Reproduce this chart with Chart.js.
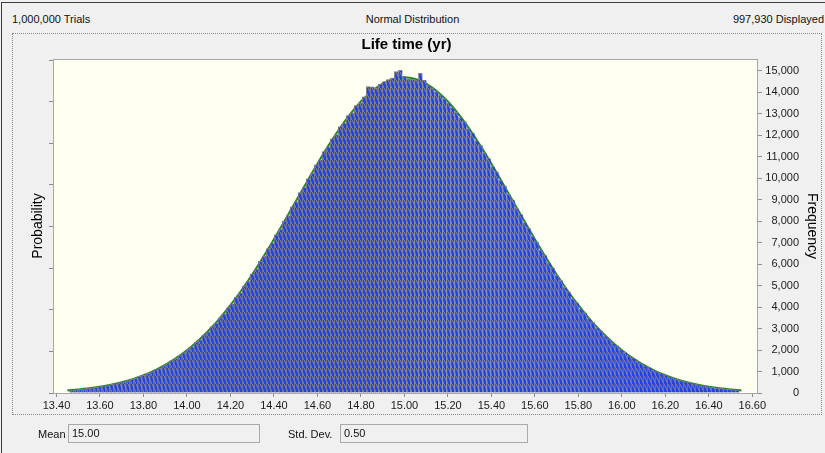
<!DOCTYPE html>
<html>
<head>
<meta charset="utf-8">
<script src="https://cdn.jsdelivr.net/npm/chart.js@4.4.1/dist/chart.umd.min.js"></script>
<style>
  html, body { margin: 0; padding: 0; }
  body {
    width: 825px; height: 453px; position: relative; overflow: hidden;
    background: #f0f0f0; color: #111;
    font-family: "Liberation Sans", Arial, sans-serif; font-size: 11px;
  }
  .edge { position: absolute; left: 1px; top: 2px; right: 0; bottom: 0;
    border-left: 1px solid #3c3c3c; border-top: 1px solid #3c3c3c; }
  .hdr { position: absolute; top: 13px; white-space: nowrap; }
  #frame { position: absolute; left: 12px; top: 33px; width: 808px; height: 380px;
    border: 1px dotted #8a8a8a; }
  #chartBox { position: absolute; left: 0; top: 0; width: 825px; height: 453px; }
  .lbl { position: absolute; top: 428px; white-space: nowrap; }
  .box { position: absolute; top: 424px; height: 19px; box-sizing: border-box;
    border: 1px solid #a9a9a9; background: #f0f0f0; padding-left: 3px; line-height: 17px; }
</style>
</head>
<body>
<div class="edge"></div>
<div class="hdr" style="left:12px">1,000,000 Trials</div>
<div class="hdr" style="left:0;width:825px;text-align:center">Normal Distribution</div>
<div class="hdr" style="right:1px">997,930 Displayed</div>
<div id="frame"></div>
<div id="chartBox"><canvas id="histChart" width="825" height="453"></canvas></div>
<div class="lbl" style="left:38px">Mean</div>
<div class="box" style="left:68px;width:192px">15.00</div>
<div class="lbl" style="left:288px">Std. Dev.</div>
<div class="box" style="left:340px;width:188px">0.50</div>

<script>
// Histogram data
const trials = 1000000
const displayed = 997930
const binStart = 13.4605
const binWidth = 0.018437

const frequency = [
  141, 148, 175, 186, 217, 232, 266, 284, 327, 351,
  398, 429, 484, 519, 583, 641, 688, 771, 826, 918,
  981, 1089, 1162, 1281, 1369, 1503, 1598, 1757, 1868, 2034,
  2161, 2352, 2489, 2702, 2851, 3087, 3249, 3502, 3688, 3961,
  4152, 4449, 4661, 4973, 5198, 5534, 5768, 6121, 6362, 6723,
  6981, 7356, 7612, 8003, 8258, 8664, 8912, 9321, 9572, 9968,
  10218, 10611, 10849, 11237, 11452, 11831, 12028, 12391, 12556, 12912,
  13041, 13372, 13489, 13781, 14260, 14240, 14170, 14372, 14488, 14579,
  14652, 14960, 15010, 14720, 14610, 14590, 14560, 14870, 14560, 14310,
  14190, 14020, 13860, 13690, 13502, 13279, 13061, 12818, 12634, 12302,
  12110, 11749, 11531, 11158, 10921, 10538, 10289, 9897, 9641, 9243,
  8987, 8589, 8327, 7934, 7679, 7291, 7038, 6664, 6419, 6058,
  5822, 5476, 5247, 4921, 4706, 4398, 4199, 3911, 3726, 3459,
  3289, 3046, 2887, 2664, 2519, 2318, 2189, 2006, 1891, 1727,
  1624, 1479, 1388, 1261, 1179, 1068, 997, 899, 839, 753,
  701, 627, 582, 520, 481, 429, 396, 351, 324, 287,
  264, 232, 214, 187, 172, 150, 138
]

// fitted normal curve (green line)
const fitX = [
  13.45, 13.50, 13.55, 13.60, 13.65, 13.70, 13.75, 13.80, 13.85, 13.90, 13.95,
  14.00, 14.05, 14.10, 14.15, 14.20, 14.25, 14.30, 14.35, 14.40, 14.45,
  14.50, 14.55, 14.60, 14.65, 14.70, 14.75, 14.80, 14.85, 14.90, 14.95,
  15.00, 15.05, 15.10, 15.15, 15.20, 15.25, 15.30, 15.35, 15.40, 15.45,
  15.50, 15.55, 15.60, 15.65, 15.70, 15.75, 15.80, 15.85, 15.90, 15.95,
  16.00, 16.05, 16.10, 16.15, 16.20, 16.25, 16.30, 16.35, 16.40, 16.45,
  16.50, 16.55
]
const fitY = [
  120, 163, 219, 292, 384, 500, 645, 824, 1043, 1306, 1620,
  1988, 2416, 2907, 3463, 4084, 4770, 5513, 6311, 7151, 8022,
  8910, 9798, 10667, 11498, 12271, 12964, 13561, 14044, 14399, 14617,
  14690, 14617, 14399, 14044, 13561, 12964, 12271, 11498, 10667, 9798,
  8910, 8022, 7151, 6311, 5513, 4770, 4084, 3463, 2907, 2416,
  1988, 1620, 1306, 1043, 824, 645, 500, 384, 292, 219,
  163, 120
]

const xTicks = [13.4, 13.6, 13.8, 14.0, 14.2, 14.4, 14.6, 14.8, 15.0,
  15.2, 15.4, 15.6, 15.8, 16.0, 16.2, 16.4, 16.6]
const freqTicks = [0, 1000, 2000, 3000, 4000, 5000, 6000, 7000, 8000,
  9000, 10000, 11000, 12000, 13000, 14000, 15000]
const probTicks = [0, 0.00194, 0.00388, 0.00582, 0.00776, 0.0097, 0.01164, 0.01358, 0.01552]
const xMin = 13.384
const xMax = 16.626
const freqMax = 15540

function hatchPattern() {
  const c = document.createElement("canvas")
  c.width = 4
  c.height = 8
  const g = c.getContext("2d")
  g.fillStyle = "#2242e4"
  g.fillRect(0, 0, 4, 8)
  g.strokeStyle = "#8b8b98"
  g.lineWidth = 1
  g.beginPath()
  g.moveTo(0, 0)
  g.lineTo(4, 8)
  g.stroke()
  return g.createPattern(c, "repeat")
}

const plotFrame = {
  id: "plotFrame",
  beforeDraw(chart) {
    const a = chart.chartArea
    const ctx = chart.ctx
    ctx.save()
    ctx.fillStyle = "#fffff2"
    ctx.fillRect(a.left, a.top, a.right - a.left, a.bottom - a.top)
    ctx.restore()
  },
  afterDatasetsDraw(chart) {
    const a = chart.chartArea
    const ctx = chart.ctx
    ctx.save()
    ctx.strokeStyle = "#a8a8a8"
    ctx.lineWidth = 1
    ctx.strokeRect(a.left + 0.5, a.top + 0.5, a.right - a.left - 1, a.bottom - a.top)
    ctx.restore()
  },
}

Chart.defaults.font.family = '"Liberation Sans", Arial, sans-serif'
Chart.defaults.font.size = 11
Chart.defaults.color = "#1a1a1a"

const tickGrid = { drawOnChartArea: false, drawTicks: true, tickLength: 4, color: "#8c8c8c" }

new Chart(document.getElementById("histChart"), {
  type: "bar",
  data: {
    datasets: [
      {
        type: "bar",
        label: "Frequency",
        data: frequency.map((v, i) => ({ x: binStart + (i + 0.5) * binWidth, y: v })),
        backgroundColor: hatchPattern(),
        borderColor: "#7c7c8a",
        borderWidth: { top: 1, left: 1, right: 0, bottom: 0 },
        borderSkipped: false,
        barPercentage: 1,
        categoryPercentage: 1,
        xAxisID: "x",
        yAxisID: "y",
        order: 1,
      },
      {
        type: "line",
        label: "Normal",
        data: fitX.map((x, i) => ({ x: x, y: fitY[i] })),
        borderColor: "#1e8a1e",
        borderWidth: 2,
        pointRadius: 0,
        tension: 0.4,
        fill: false,
        xAxisID: "x",
        yAxisID: "y",
        order: 2,
      },
    ],
  },
  options: {
    responsive: false,
    animation: false,
    layout: { padding: { left: 14, right: 26, top: 36, bottom: 40 } },
    plugins: {
      legend: { display: false },
      tooltip: { enabled: false },
      title: {
        display: true,
        text: "Life time (yr)",
        color: "#000",
        font: { size: 15, weight: "bold" },
        padding: { top: 0, bottom: 5 },
      },
    },
    scales: {
      x: {
        type: "linear",
        min: xMin,
        max: xMax,
        offset: false,
        border: { display: false },
        grid: Object.assign({ offset: false }, tickGrid),
        afterBuildTicks: (s) => { s.ticks = xTicks.map((v) => ({ value: v })) },
        afterFit: (s) => { s.height = 20 },
        ticks: {
          padding: 2,
          maxRotation: 0,
          autoSkip: false,
          callback: (v) => Number(v).toFixed(2),
        },
      },
      yP: {
        type: "linear",
        position: "left",
        min: 0,
        max: freqMax / displayed,
        border: { display: false },
        grid: tickGrid,
        afterBuildTicks: (s) => { s.ticks = probTicks.map((v) => ({ value: v })) },
        afterFit: (s) => { s.width = 39 },
        ticks: { display: false },
        title: {
          display: true,
          text: "Probability",
          color: "#000",
          font: { size: 14 },
          padding: { top: 16, bottom: 0 },
        },
      },
      y: {
        type: "linear",
        position: "right",
        min: 0,
        max: freqMax,
        border: { display: false },
        grid: tickGrid,
        afterBuildTicks: (s) => { s.ticks = freqTicks.map((v) => ({ value: v })) },
        afterFit: (s) => { s.width = 41 },
        ticks: {
          autoSkip: false,
          crossAlign: "far",
          padding: 3,
          callback: (v) => Number(v).toLocaleString("en-US"),
        },
        title: {
          display: true,
          text: "Frequency",
          color: "#000",
          font: { size: 14 },
          padding: { top: -21, bottom: 0 },
        },
      },
    },
  },
  plugins: [plotFrame],
})
</script>
</body>
</html>
